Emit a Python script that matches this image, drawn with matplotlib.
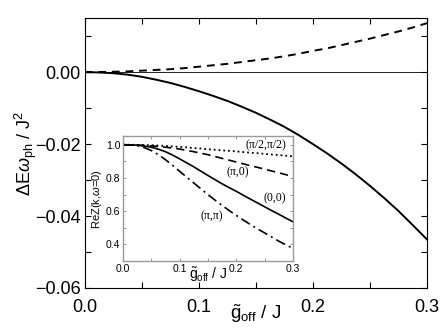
import numpy as np
import matplotlib
matplotlib.use('Agg')
from matplotlib import pyplot as plt
from matplotlib.ticker import MultipleLocator, FormatStrFormatter, FuncFormatter

plt.rcParams['font.family'] = ['Liberation Sans', 'DejaVu Sans']
plt.rcParams['mathtext.fontset'] = 'custom'
plt.rcParams['mathtext.rm'] = 'Liberation Sans'
plt.rcParams['mathtext.it'] = 'Liberation Sans:italic'

# main panel: energy shift vs g_off
g = [0.0, 0.0125, 0.025, 0.0375, 0.05, 0.0625, 0.075, 0.0875, 0.1, 0.1125, 0.125,
     0.1375, 0.15, 0.1625, 0.175, 0.1875, 0.2, 0.2125, 0.225, 0.2375, 0.25, 0.2625,
     0.275, 0.2875, 0.3]
dE_solid = [0.0, -0.0001, -0.0003, -0.0007, -0.0013, -0.0021, -0.0030, -0.0041,
            -0.0053, -0.0066, -0.0080, -0.0096, -0.0113, -0.0132, -0.0152, -0.0175,
            -0.0200, -0.0226, -0.0254, -0.0284, -0.0316, -0.0350, -0.0386, -0.0425,
            -0.0465]
dE_dashed = [0.0, 0.00002, 0.0001, 0.0002, 0.0004, 0.0006, 0.0008, 0.0011, 0.0015,
             0.0019, 0.0023, 0.0028, 0.0033, 0.0038, 0.0044, 0.0051, 0.0059, 0.0066,
             0.0075, 0.0084, 0.0093, 0.0103, 0.0113, 0.0124, 0.0136]

# inset: ReZ(k, w=0) for four momenta
z_pi2 = [1.0, 1.0, 0.999, 0.998, 0.997, 0.995, 0.993, 0.990, 0.987, 0.984, 0.980,
         0.977, 0.973, 0.970, 0.966, 0.963, 0.960, 0.956, 0.952, 0.949, 0.945, 0.941,
         0.938, 0.934, 0.930]
z_pi0 = [1.0, 0.999, 0.998, 0.996, 0.993, 0.989, 0.985, 0.980, 0.974, 0.966, 0.958,
         0.949, 0.940, 0.929, 0.918, 0.907, 0.896, 0.885, 0.874, 0.864, 0.853, 0.842,
         0.831, 0.820, 0.810]
z_00 = [1.0, 0.999, 0.997, 0.992, 0.985, 0.973, 0.958, 0.938, 0.915, 0.891, 0.867,
        0.841, 0.815, 0.790, 0.765, 0.742, 0.720, 0.696, 0.673, 0.650, 0.627, 0.604,
        0.582, 0.559, 0.537]
z_pipi = [1.0, 0.999, 0.995, 0.983, 0.965, 0.940, 0.910, 0.876, 0.840, 0.805, 0.770,
          0.735, 0.700, 0.667, 0.635, 0.604, 0.575, 0.547, 0.520, 0.494, 0.470, 0.445,
          0.420, 0.398, 0.377]
labels = ['(\u03c0/2,\u03c0/2)', '(\u03c0,0)', '(0,0)', '(\u03c0,\u03c0)']
lab_x = [0.252, 0.203, 0.268, 0.157]
lab_y = [0.995, 0.834, 0.68, 0.571]

fig = plt.figure(figsize=(4.48, 3.36), dpi=100)
ax = fig.add_axes([0.189, 0.143, 0.764, 0.803])

ax.axhline(0, color='k', lw=0.6)
ax.plot(g, dE_solid, 'k-', lw=1.4)
ax.plot(g, dE_dashed, 'k--', lw=1.4, dashes=(4, 3))

ax.set_xlim(0, 0.3)
ax.set_ylim(-0.06, 0.015)
ax.xaxis.set_major_locator(MultipleLocator(0.1))
ax.xaxis.set_minor_locator(MultipleLocator(0.05))
ax.yaxis.set_major_locator(MultipleLocator(0.02))
ax.yaxis.set_minor_locator(MultipleLocator(0.01))
ax.xaxis.set_major_formatter(FormatStrFormatter('%.1f'))
ax.yaxis.set_major_formatter(FuncFormatter(
    lambda v, p: ('%.2f' % v).replace('-', '\u2212')))
ax.tick_params(which='both', direction='in', top=True, right=True, labelsize=13,
               width=0.8, length=4)
ax.tick_params(axis='x', pad=8)
ax.tick_params(axis='y', pad=3)
for s in ax.spines.values():
    s.set_linewidth(0.8)
ax.set_xlabel(r'$\tilde{\mathrm{g}}_{\mathrm{off}}$ / J', fontsize=13.5, labelpad=-10)
ax.set_ylabel(r'$\Delta\mathrm{E}\omega_{\mathrm{ph}}$ / J$^2$', fontsize=13, labelpad=-3)

# inset
ins = fig.add_axes([0.2746, 0.223, 0.379, 0.371])
ins.plot(g, z_pi2, 'k:', lw=1.3)
ins.plot(g, z_pi0, 'k--', lw=1.2, dashes=(5, 3))
ins.plot(g, z_00, 'k-', lw=1.2)
ins.plot(g, z_pipi, 'k-.', lw=1.2, dashes=(6, 2.5, 1.2, 2.5))
ins.set_xlim(0, 0.3)
ins.set_ylim(0.3, 1.05)
ins.xaxis.set_major_locator(MultipleLocator(0.1))
ins.xaxis.set_minor_locator(MultipleLocator(0.05))
ins.yaxis.set_major_locator(MultipleLocator(0.2))
ins.yaxis.set_minor_locator(MultipleLocator(0.1))
ins.xaxis.set_major_formatter(FormatStrFormatter('%.1f'))
ins.yaxis.set_major_formatter(FormatStrFormatter('%.1f'))
ins.tick_params(which='both', direction='in', top=True, right=True, labelsize=7.5,
                length=2.5, width=0.6, color='#888888', pad=2)
for s in ins.spines.values():
    s.set_color('#999999')
    s.set_linewidth(1.0)
ins.set_xlabel(r'$\tilde{\mathrm{g}}_{\mathrm{off}}$ / J', fontsize=10, labelpad=-6)
ins.set_ylabel(r'ReZ(k,$\omega$=0)', fontsize=8, labelpad=1)

for t, x, y in zip(labels, lab_x, lab_y):
    ins.text(x, y, t, fontsize=8.5, family=['Liberation Serif', 'DejaVu Serif'],
             ha='center', va='center')

fig.savefig('out.png', dpi=100)
